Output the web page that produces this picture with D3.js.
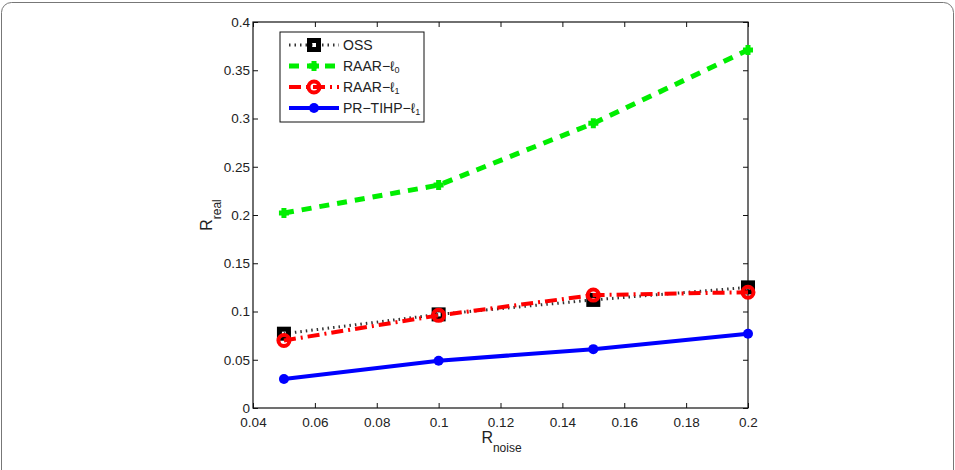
<!DOCTYPE html>
<html>
<head>
<meta charset="utf-8">
<script src="https://cdn.jsdelivr.net/npm/d3@7"></script>
<style>
  body { margin: 0; background: #fff; }
  svg text { font-family: "Liberation Sans", Arial, sans-serif; fill: #222; }
</style>
</head>
<body>
<div id="chart"></div>
<script>
// chart data
const noiseLevels = [0.05, 0.1, 0.15, 0.2];
const ossValues = [0.077, 0.097, 0.112, 0.125];
const raarL0Values = [0.202, 0.231, 0.295, 0.371];
const raarL1Values = [0.070, 0.096, 0.117, 0.120];
const prTihpValues = [0.030, 0.049, 0.061, 0.077];
const xTicks = [0.04, 0.06, 0.08, 0.1, 0.12, 0.14, 0.16, 0.18, 0.2];
const yTicks = [0, 0.05, 0.1, 0.15, 0.2, 0.25, 0.3, 0.35, 0.4];

const series = [
    { name: 'OSS', sub: '', values: ossValues, color: '#333', width: 3, dash: '1.5,4', marker: 'square' },
    { name: 'RAAR\u2212\u2113', sub: '0', values: raarL0Values, color: '#00ee00', width: 5, dash: '10,8', marker: 'plus' },
    { name: 'RAAR\u2212\u2113', sub: '1', values: raarL1Values, color: '#ff0000', width: 4, dash: '12,5,2,5', marker: 'circle' },
    { name: 'PR\u2212TIHP\u2212\u2113', sub: '1', values: prTihpValues, color: '#0000ff', width: 4, dash: null, marker: 'dot' }
];

const W = 955, H = 470;
const margin = { top: 22, right: 207, bottom: 62, left: 253 };
const width = W - margin.left - margin.right;
const height = H - margin.top - margin.bottom;

const root = d3.select('#chart').append('svg')
    .attr('width', W)
    .attr('height', H);

// outer frame of the figure
root.append('rect')
    .attr('x', 1.5).attr('y', 2.5)
    .attr('width', W - 3).attr('height', H + 20)
    .attr('rx', 10)
    .attr('fill', 'none')
    .attr('stroke', '#777')
    .attr('stroke-width', 1);

const svg = root.append('g')
    .attr('transform', `translate(${margin.left}, ${margin.top})`);

const x = d3.scaleLinear().domain([0.04, 0.2]).range([0, width]);
const y = d3.scaleLinear().domain([0, 0.4]).range([height, 0]);

// axes with inward ticks on all four sides
const fmt = d => String(+d.toFixed(2));
svg.append('g')
    .attr('transform', `translate(0, ${height})`)
    .call(d3.axisBottom(x).tickValues(xTicks).tickSizeInner(-5).tickSizeOuter(0).tickPadding(9).tickFormat(fmt));
svg.append('g')
    .call(d3.axisTop(x).tickValues(xTicks).tickSizeInner(-5).tickSizeOuter(0).tickFormat(''));
svg.append('g')
    .call(d3.axisLeft(y).tickValues(yTicks).tickSizeInner(-5).tickSizeOuter(0).tickPadding(3).tickFormat(fmt));
svg.append('g')
    .attr('transform', `translate(${width}, 0)`)
    .call(d3.axisRight(y).tickValues(yTicks).tickSizeInner(-5).tickSizeOuter(0).tickFormat(''));

svg.selectAll('.domain').remove();
svg.selectAll('.tick line').attr('stroke', '#111');
svg.selectAll('.tick text').attr('font-size', 13.5).style('fill', '#222');

svg.append('rect')
    .attr('width', width).attr('height', height)
    .attr('fill', 'none')
    .attr('stroke', '#111')
    .attr('stroke-width', 1.2);

// axis labels
const xl = svg.append('text')
    .attr('x', width / 2 + 1)
    .attr('y', height + 35)
    .attr('text-anchor', 'middle')
    .attr('font-size', 16);
xl.append('tspan').text('R');
xl.append('tspan').attr('font-size', 12).attr('dy', 9).text('noise');

const yl = svg.append('text')
    .attr('transform', `translate(-41, ${height / 2}) rotate(-90)`)
    .attr('text-anchor', 'middle')
    .attr('font-size', 16);
yl.append('tspan').text('R');
yl.append('tspan').attr('font-size', 12).attr('dy', 9).text('real');

// lines
const line = d3.line().x(d => x(d[0])).y(d => y(d[1]));

function drawMarker(g, type, color, cx, cy) {
    if (type === 'square') {
        g.append('rect')
            .attr('x', cx - 4.5).attr('y', cy - 4.5)
            .attr('width', 9).attr('height', 9)
            .attr('fill', 'none')
            .attr('stroke', '#000')
            .attr('stroke-width', 5);
    } else if (type === 'plus') {
        g.append('path')
            .attr('d', `M${cx - 5},${cy}H${cx + 5}M${cx},${cy - 5}V${cy + 5}`)
            .attr('stroke', color)
            .attr('stroke-width', 5);
    } else if (type === 'circle') {
        g.append('circle')
            .attr('cx', cx).attr('cy', cy).attr('r', 5.5)
            .attr('fill', 'none')
            .attr('stroke', color)
            .attr('stroke-width', 4);
    } else {
        g.append('circle')
            .attr('cx', cx).attr('cy', cy).attr('r', 5)
            .attr('fill', color);
    }
}

series.forEach(s => {
    const pts = noiseLevels.map((n, i) => [n, s.values[i]]);
    const g = svg.append('g');
    g.append('path')
        .datum(pts)
        .attr('d', line)
        .attr('fill', 'none')
        .attr('stroke', s.color)
        .attr('stroke-width', s.width)
        .attr('stroke-dasharray', s.dash);
    pts.forEach(p => drawMarker(g, s.marker, s.color, x(p[0]), y(p[1])));
});

// legend
const legend = svg.append('g')
    .attr('transform', 'translate(27, 10)');
legend.append('rect')
    .attr('width', 144).attr('height', 90)
    .attr('fill', '#fff')
    .attr('stroke', '#111')
    .attr('stroke-width', 1);

series.forEach((s, i) => {
    const ly = 13 + i * 21;
    legend.append('line')
        .attr('x1', 9).attr('x2', 59)
        .attr('y1', ly).attr('y2', ly)
        .attr('stroke', s.color)
        .attr('stroke-width', s.width)
        .attr('stroke-dasharray', s.dash);
    drawMarker(legend, s.marker, s.color, 34, ly);
    const t = legend.append('text')
        .attr('x', 63).attr('y', ly + 5)
        .attr('font-size', 14);
    t.append('tspan').text(s.name);
    if (s.sub) t.append('tspan').attr('font-size', 9).attr('dy', 2).text(s.sub);
});
</script>
</body>
</html>
